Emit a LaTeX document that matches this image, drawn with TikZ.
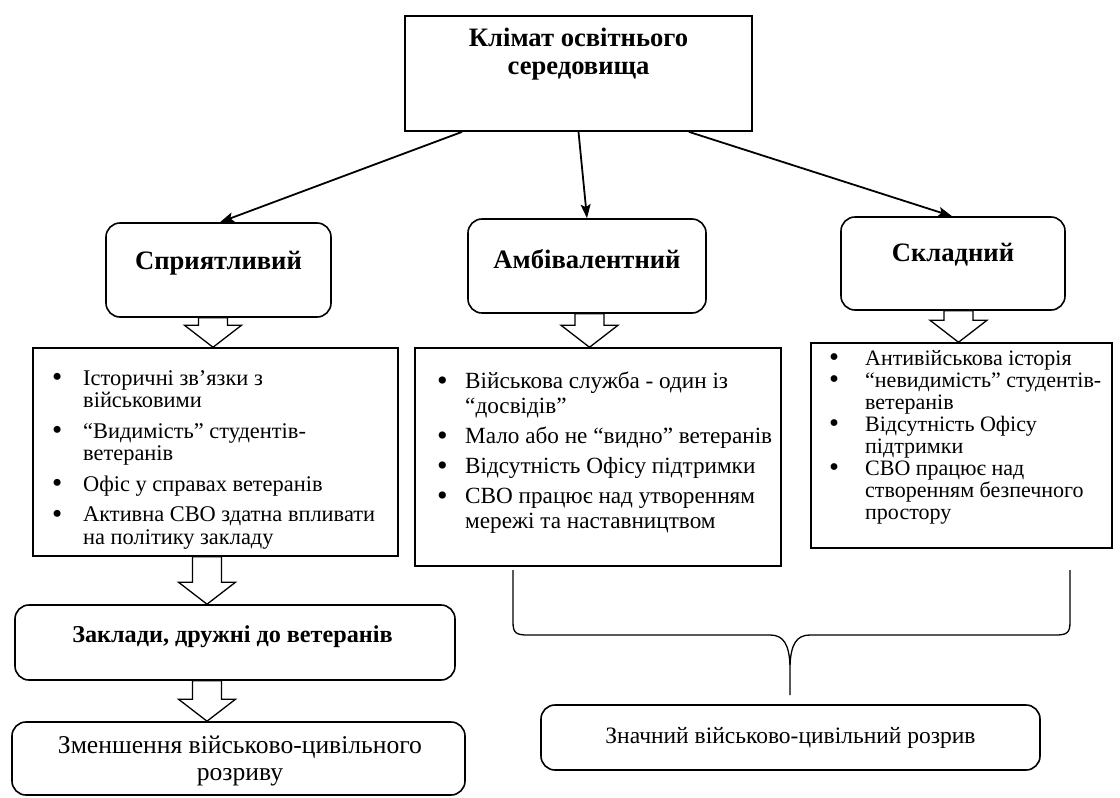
\documentclass[tikz,border=0pt]{standalone}
\usepackage{fontspec}
\usepackage{graphicx}
\setmainfont{Liberation Serif}
\usetikzlibrary{arrows.meta,calc}
\newcommand\bl[1]{\makebox[#1][l]{\smash{\raisebox{-1.7pt}{\scalebox{1.3}{\textbullet}}}}}
\newcommand\ind[1]{\makebox[#1]{}}
\newcommand\blockarrow[3]{%
  \path[blk] let \p1=(#1), \p2=(#2) in
   (#3-14.5,\y1) -- (#3+14.5,\y1) -- (#3+14.5,\y2+22pt) -- (#3+28.5,\y2+22pt)
   -- (#3,\y2) -- (#3-28.5,\y2+22pt) -- (#3-14.5,\y2+22pt) -- cycle;}
\begin{document}
\begin{tikzpicture}[x=1pt,y=-1pt,
  sq/.style={draw, line width=1.5pt, inner sep=0pt},
  rbox/.style={draw, line width=1.6pt, rounded corners=14pt, inner sep=0pt},
  lbl/.style={inner sep=0pt, align=center},
  catf/.style={font=\fontsize{26.6}{30}\selectfont\bfseries},
  lst/.style={anchor=north west, inner sep=0pt, align=left},
  conn/.style={line width=1.8pt, -{Stealth[length=14pt,width=10pt,inset=3pt]}},
  blk/.style={draw, line width=1.3pt, fill=white, line join=miter},
  brace/.style={line width=1.3pt}]
\useasboundingbox (0,0) rectangle (1120,798);

% top
\node[sq, line width=1.8pt, minimum width=347pt, minimum height=115pt] (top) at (578.5,73.5) {};
\node[lbl, font=\fontsize{26.6}{28.5}\selectfont\bfseries] (toptxt) at (578.5,54) {Клімат освітнього\\середовища};

% categories
\node[rbox, minimum width=225pt, minimum height=94pt] (c1) at (218.5,270) {};
\node[lbl, catf] (c1t) at (218.5,263) {Сприятливий};
\node[rbox, minimum width=238pt, minimum height=94pt] (c2) at (587,266) {};
\node[lbl, catf] (c2t) at (587,259) {Амбівалентний};
\node[rbox, minimum width=224pt, minimum height=93pt] (c3) at (953,263.5) {};
\node[lbl, catf] (c3t) at (953,255) {Складний};

\draw[conn] ([xshift=-116.5pt]top.south) -- ([xshift=1.5pt]c1.north);
\draw[conn] (top.south) -- (c2.north);
\draw[conn] ([xshift=110.5pt]top.south) -- ([xshift=-1pt]c3.north);

% lists
\node[sq, minimum width=365pt, minimum height=208pt] (l1) at (215.5,452) {};
\node[lst, font=\fontsize{22.4}{22.5}\selectfont] (l1t) at (52,369) {%
\rule{0pt}{16pt}\bl{31pt}Історичні зв’язки з\\ \ind{31pt}військовими\\[8pt]
\bl{31pt}“Видимість” студентів-\\ \ind{31pt}ветеранів\\[8pt]
\bl{31pt}Офіс у справах ветеранів\\[8pt]
\bl{31pt}Активна СВО здатна впливати\\ \ind{31pt}на політику закладу};

\node[sq, minimum width=366pt, minimum height=218pt] (l2) at (598,457) {};
\node[lst, font=\fontsize{23.2}{25}\selectfont] (l2t) at (437,372) {%
\rule{0pt}{16pt}\bl{28pt}Військова служба - один із\\ \ind{28pt}“досвідів”\\[5pt]
\bl{28pt}Мало або не “видно” ветеранів\\[5pt]
\bl{28pt}Відсутність Офісу підтримки\\[5pt]
\bl{28pt}СВО працює над утворенням\\ \ind{28pt}мережі та наставництвом};

\node[sq, minimum width=301pt, minimum height=205pt] (l3) at (961.5,445.5) {};
\node[lst, font=\fontsize{22}{22}\selectfont] (l3t) at (829,349) {%
\rule{0pt}{16pt}\bl{36pt}Антивійськова історія\\
\bl{36pt}“невидимість” студентів-\\ \ind{36pt}ветеранів\\
\bl{36pt}Відсутність Офісу\\ \ind{36pt}підтримки\\
\bl{36pt}СВО працює над\\ \ind{36pt}створенням безпечного\\ \ind{36pt}простору};

\blockarrow{c1.south}{l1.north}{213}
\blockarrow{c2.south}{l2.north}{589.5}
\blockarrow{c3.south}{l3.north}{958.5}

% left bottom chain
\node[rbox, minimum width=440pt, minimum height=75pt] (zak) at (235,642.5) {};
\node[lbl, font=\fontsize{24.2}{26}\selectfont\bfseries] (zakt) at (232.5,637) {Заклади, дружні до ветеранів};
\node[rbox, minimum width=453pt, minimum height=73pt] (zm) at (238.5,758.5) {};
\node[lbl, font=\fontsize{25.6}{27}\selectfont] (zmt) at (240,761) {Зменшення військово-цивільного\\розриву};

\blockarrow{l1.south}{zak.north}{207}
\blockarrow{zak.south}{zm.north}{207}

% brace and result
\coordinate (bL) at (513,570);
\coordinate (bR) at (1070,570);
\coordinate (bT) at (790,695);
\draw[brace] (bL) -- (513,622) .. controls (513,633) and (516,635) .. (528,635)
  -- (770,635) .. controls (784,635) and (789,645) .. (790,665) -- (bT);
\draw[brace] (bR) -- (1070,622) .. controls (1070,633) and (1067,635) .. (1055,635)
  -- (810,635) .. controls (796,635) and (791,645) .. (790,665);
\node[rbox, minimum width=499pt, minimum height=65pt] (zn) at (790.5,737.5) {};
\node[lbl, font=\fontsize{23.5}{26}\selectfont] (znt) at (790.5,737.5) {Значний військово-цивільний розрив};
\end{tikzpicture}
\end{document}
